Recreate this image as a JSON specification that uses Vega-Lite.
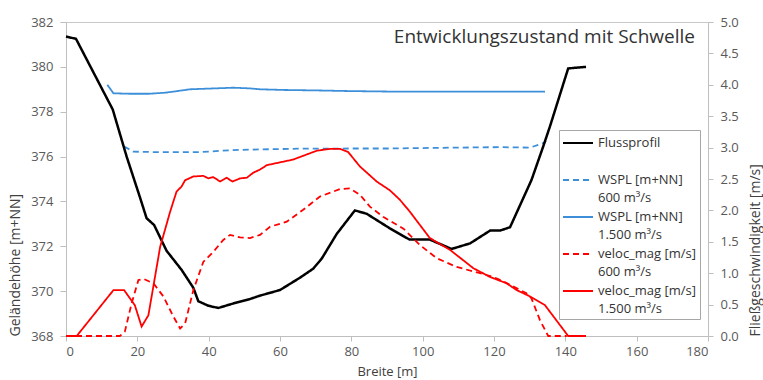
{
  "$schema": "https://vega.github.io/schema/vega-lite/v6.json",
  "width": 642,
  "height": 314,
  "autosize": "none",
  "padding": {"left": 66, "top": 22, "right": 55, "bottom": 44},
  "background": "white",
  "title": {
    "text": "Entwicklungszustand mit Schwelle",
    "anchor": "end",
    "orient": "top",
    "frame": "group",
    "offset": -31,
    "dx": -13,
    "fontSize": 19,
    "font": "Open Sans",
    "fontWeight": "normal",
    "color": "#333333"
  },
  "config": {
    "font": "Open Sans",
    "view": {"stroke": "#c8c8c8", "strokeWidth": 1},
    "axis": {
      "grid": false,
      "domainColor": "#bfbfbf",
      "tickColor": "#bfbfbf",
      "tickSize": 5,
      "labelColor": "#595959",
      "labelFontSize": 13,
      "labelFont": "Open Sans",
      "titleFont": "Open Sans",
      "titleFontSize": 14,
      "titleFontWeight": "normal",
      "titleColor": "#404040"
    },
    "legend": {
      "orient": "none",
      "legendX": 493,
      "legendY": 108,
      "strokeColor": "#a6a6a6",
      "fillColor": "white",
      "padding": 3,
      "symbolType": "stroke",
      "symbolSize": 900,
      "symbolStrokeWidth": 2,
      "clipHeight": 20,
      "labelFontSize": 13,
      "labelFont": "Open Sans",
      "labelColor": "#333333",
      "labelLimit": 300,
      "labelOffset": 4,
      "rowPadding": 2
    }
  },
  "data": {
    "values": [
      {"s": "F", "x": 0, "y": 381.35},
      {"s": "F", "x": 2.8, "y": 381.25},
      {"s": "F", "x": 13.1, "y": 378.1},
      {"s": "F", "x": 17, "y": 376.0},
      {"s": "F", "x": 20.7, "y": 374.2},
      {"s": "F", "x": 22.6, "y": 373.25},
      {"s": "F", "x": 24.7, "y": 372.95},
      {"s": "F", "x": 28.2, "y": 371.8},
      {"s": "F", "x": 32.4, "y": 370.95},
      {"s": "F", "x": 35.7, "y": 370.15},
      {"s": "F", "x": 37.1, "y": 369.55},
      {"s": "F", "x": 39.9, "y": 369.35},
      {"s": "F", "x": 42.7, "y": 369.25},
      {"s": "F", "x": 46.9, "y": 369.45},
      {"s": "F", "x": 51.6, "y": 369.65},
      {"s": "F", "x": 54.4, "y": 369.8},
      {"s": "F", "x": 60, "y": 370.05},
      {"s": "F", "x": 65.6, "y": 370.6},
      {"s": "F", "x": 69.3, "y": 371.0},
      {"s": "F", "x": 71.7, "y": 371.45},
      {"s": "F", "x": 75.9, "y": 372.55},
      {"s": "F", "x": 81.0, "y": 373.6},
      {"s": "F", "x": 84.3, "y": 373.45},
      {"s": "F", "x": 90.8, "y": 372.8},
      {"s": "F", "x": 96.3, "y": 372.3},
      {"s": "F", "x": 102.0, "y": 372.3},
      {"s": "F", "x": 108.1, "y": 371.88},
      {"s": "F", "x": 113.3, "y": 372.13},
      {"s": "F", "x": 118.9, "y": 372.7},
      {"s": "F", "x": 121.7, "y": 372.7},
      {"s": "F", "x": 124.5, "y": 372.85},
      {"s": "F", "x": 130.5, "y": 374.95},
      {"s": "F", "x": 133.8, "y": 376.45},
      {"s": "F", "x": 135.7, "y": 377.35},
      {"s": "F", "x": 140.8, "y": 379.93},
      {"s": "F", "x": 145.8, "y": 380.0},

      {"s": "W1500", "x": 11.6, "y": 379.2},
      {"s": "W1500", "x": 13.3, "y": 378.82},
      {"s": "W1500", "x": 18, "y": 378.8},
      {"s": "W1500", "x": 23.1, "y": 378.8},
      {"s": "W1500", "x": 28, "y": 378.85},
      {"s": "W1500", "x": 34.8, "y": 379.0},
      {"s": "W1500", "x": 40, "y": 379.03},
      {"s": "W1500", "x": 46.9, "y": 379.07},
      {"s": "W1500", "x": 51.6, "y": 379.04},
      {"s": "W1500", "x": 54.4, "y": 379.0},
      {"s": "W1500", "x": 60.9, "y": 378.97},
      {"s": "W1500", "x": 70, "y": 378.95},
      {"s": "W1500", "x": 79.6, "y": 378.92},
      {"s": "W1500", "x": 90, "y": 378.9},
      {"s": "W1500", "x": 100, "y": 378.9},
      {"s": "W1500", "x": 110, "y": 378.9},
      {"s": "W1500", "x": 120, "y": 378.9},
      {"s": "W1500", "x": 134.3, "y": 378.9},

      {"s": "W600", "x": 16.3, "y": 376.45},
      {"s": "W600", "x": 18.9, "y": 376.22},
      {"s": "W600", "x": 25, "y": 376.2},
      {"s": "W600", "x": 30, "y": 376.2},
      {"s": "W600", "x": 37.6, "y": 376.2},
      {"s": "W600", "x": 46.9, "y": 376.29},
      {"s": "W600", "x": 54.4, "y": 376.32},
      {"s": "W600", "x": 65, "y": 376.35},
      {"s": "W600", "x": 80, "y": 376.36},
      {"s": "W600", "x": 90, "y": 376.36},
      {"s": "W600", "x": 100, "y": 376.38},
      {"s": "W600", "x": 110, "y": 376.4},
      {"s": "W600", "x": 121.7, "y": 376.42},
      {"s": "W600", "x": 130.1, "y": 376.4},
      {"s": "W600", "x": 133.8, "y": 376.6},
      {"s": "W600", "x": 134.6, "y": 376.7},

      {"s": "V1500", "x": 0, "y": 0},
      {"s": "V1500", "x": 3, "y": 0},
      {"s": "V1500", "x": 13.3, "y": 0.73},
      {"s": "V1500", "x": 16.3, "y": 0.73},
      {"s": "V1500", "x": 19.3, "y": 0.49},
      {"s": "V1500", "x": 21.2, "y": 0.15},
      {"s": "V1500", "x": 23.1, "y": 0.33},
      {"s": "V1500", "x": 26.4, "y": 1.42},
      {"s": "V1500", "x": 29.2, "y": 1.98},
      {"s": "V1500", "x": 31.0, "y": 2.3},
      {"s": "V1500", "x": 32.4, "y": 2.38},
      {"s": "V1500", "x": 33.4, "y": 2.48},
      {"s": "V1500", "x": 35.7, "y": 2.54},
      {"s": "V1500", "x": 38.5, "y": 2.55},
      {"s": "V1500", "x": 39.9, "y": 2.51},
      {"s": "V1500", "x": 41.3, "y": 2.53},
      {"s": "V1500", "x": 43.2, "y": 2.46},
      {"s": "V1500", "x": 45.0, "y": 2.52},
      {"s": "V1500", "x": 46.7, "y": 2.46},
      {"s": "V1500", "x": 48.8, "y": 2.51},
      {"s": "V1500", "x": 50.7, "y": 2.52},
      {"s": "V1500", "x": 52.5, "y": 2.6},
      {"s": "V1500", "x": 54.4, "y": 2.65},
      {"s": "V1500", "x": 56.3, "y": 2.72},
      {"s": "V1500", "x": 63.7, "y": 2.81},
      {"s": "V1500", "x": 70.3, "y": 2.95},
      {"s": "V1500", "x": 74, "y": 2.98},
      {"s": "V1500", "x": 76.8, "y": 2.98},
      {"s": "V1500", "x": 79.1, "y": 2.93},
      {"s": "V1500", "x": 82.4, "y": 2.7},
      {"s": "V1500", "x": 87.1, "y": 2.46},
      {"s": "V1500", "x": 90.8, "y": 2.32},
      {"s": "V1500", "x": 93.6, "y": 2.17},
      {"s": "V1500", "x": 96.4, "y": 1.98},
      {"s": "V1500", "x": 102.0, "y": 1.56},
      {"s": "V1500", "x": 107.7, "y": 1.37},
      {"s": "V1500", "x": 114.2, "y": 1.08},
      {"s": "V1500", "x": 118.9, "y": 0.94},
      {"s": "V1500", "x": 123.5, "y": 0.84},
      {"s": "V1500", "x": 126.4, "y": 0.73},
      {"s": "V1500", "x": 130.1, "y": 0.63},
      {"s": "V1500", "x": 134.3, "y": 0.49},
      {"s": "V1500", "x": 140.8, "y": 0},
      {"s": "V1500", "x": 145.8, "y": 0},

      {"s": "V600", "x": 0, "y": 0},
      {"s": "V600", "x": 15.1, "y": 0},
      {"s": "V600", "x": 16.5, "y": 0.07},
      {"s": "V600", "x": 18.4, "y": 0.52},
      {"s": "V600", "x": 20.3, "y": 0.89},
      {"s": "V600", "x": 21.7, "y": 0.91},
      {"s": "V600", "x": 24.5, "y": 0.84},
      {"s": "V600", "x": 27.3, "y": 0.63},
      {"s": "V600", "x": 30.1, "y": 0.31},
      {"s": "V600", "x": 32.0, "y": 0.12},
      {"s": "V600", "x": 33.4, "y": 0.2},
      {"s": "V600", "x": 35.7, "y": 0.73},
      {"s": "V600", "x": 38.5, "y": 1.18},
      {"s": "V600", "x": 41.3, "y": 1.34},
      {"s": "V600", "x": 44.1, "y": 1.53},
      {"s": "V600", "x": 46.0, "y": 1.61},
      {"s": "V600", "x": 48.8, "y": 1.57},
      {"s": "V600", "x": 51.6, "y": 1.56},
      {"s": "V600", "x": 54.4, "y": 1.61},
      {"s": "V600", "x": 57.2, "y": 1.74},
      {"s": "V600", "x": 61.9, "y": 1.82},
      {"s": "V600", "x": 66.5, "y": 2.01},
      {"s": "V600", "x": 71.2, "y": 2.22},
      {"s": "V600", "x": 76.8, "y": 2.34},
      {"s": "V600", "x": 79.6, "y": 2.35},
      {"s": "V600", "x": 82.4, "y": 2.25},
      {"s": "V600", "x": 85.2, "y": 2.06},
      {"s": "V600", "x": 88.9, "y": 1.9},
      {"s": "V600", "x": 94.6, "y": 1.71},
      {"s": "V600", "x": 99.2, "y": 1.45},
      {"s": "V600", "x": 103.9, "y": 1.24},
      {"s": "V600", "x": 109.5, "y": 1.1},
      {"s": "V600", "x": 116.1, "y": 1.0},
      {"s": "V600", "x": 119.8, "y": 0.94},
      {"s": "V600", "x": 122.6, "y": 0.87},
      {"s": "V600", "x": 129.1, "y": 0.68},
      {"s": "V600", "x": 130.5, "y": 0.6},
      {"s": "V600", "x": 132.9, "y": 0.25},
      {"s": "V600", "x": 135.2, "y": 0},
      {"s": "V600", "x": 140.4, "y": 0}
    ]
  },
  "encoding": {
    "x": {
      "field": "x",
      "type": "quantitative",
      "scale": {"domain": [0, 180], "nice": false, "zero": false},
      "axis": {"values": [0, 20, 40, 60, 80, 100, 120, 140, 160, 180], "title": "Breite [m]", "titleFontSize": 13, "labelPadding": 4, "titlePadding": 7}
    },
    "color": {
      "field": "s",
      "type": "nominal",
      "scale": {"domain": ["F", "W600", "W1500", "V600", "V1500"], "range": ["#000000", "#3d8fd9", "#3d8fd9", "#ff0000", "#ff0000"]},
      "legend": {
        "title": null,
        "labelExpr": "datum.label == 'F' ? ['Flussprofil', ' '] : datum.label == 'W600' ? ['WSPL [m+NN]', '600 m³/s'] : datum.label == 'W1500' ? ['WSPL [m+NN]', '1.500 m³/s'] : datum.label == 'V600' ? ['veloc_mag [m/s]', '600 m³/s'] : ['veloc_mag [m/s]', '1.500 m³/s']",
        "encode": {"labels": {"update": {"lineHeight": {"value": 18}}}}
      }
    },
    "strokeDash": {
      "field": "s",
      "type": "nominal",
      "scale": {"domain": ["F", "W600", "W1500", "V600", "V1500"], "range": [[1, 0], [6, 4], [1, 0], [6, 4], [1, 0]]},
      "legend": {
        "title": null,
        "labelExpr": "datum.label == 'F' ? ['Flussprofil', ' '] : datum.label == 'W600' ? ['WSPL [m+NN]', '600 m³/s'] : datum.label == 'W1500' ? ['WSPL [m+NN]', '1.500 m³/s'] : datum.label == 'V600' ? ['veloc_mag [m/s]', '600 m³/s'] : ['veloc_mag [m/s]', '1.500 m³/s']",
        "encode": {"labels": {"update": {"lineHeight": {"value": 18}}}}
      }
    }
  },
  "layer": [
    {
      "layer": [
        {
          "transform": [{"filter": "datum.s == 'W600' || datum.s == 'W1500'"}],
          "mark": {"type": "line", "strokeWidth": 1.8},
          "encoding": {
            "y": {
              "field": "y",
              "type": "quantitative",
              "scale": {"domain": [368, 382], "nice": false, "zero": false},
              "axis": {"values": [368, 370, 372, 374, 376, 378, 380, 382], "title": "Geländehöhe [m+NN]", "titleAnchor": "start", "titlePadding": 8, "labelPadding": 7, "tickSize": 6}
            }
          }
        },
        {
          "transform": [{"filter": "datum.s == 'F'"}],
          "mark": {"type": "line", "strokeWidth": 2.5},
          "encoding": {
            "y": {
              "field": "y",
              "type": "quantitative",
              "scale": {"domain": [368, 382], "nice": false, "zero": false}
            }
          }
        }
      ]
    },
    {
      "transform": [{"filter": "datum.s == 'V600' || datum.s == 'V1500'"}],
      "mark": {"type": "line", "strokeWidth": 1.8},
      "encoding": {
        "y": {
          "field": "y",
          "type": "quantitative",
          "scale": {"domain": [0, 5], "nice": false, "zero": false},
          "axis": {"orient": "right", "values": [0, 0.5, 1, 1.5, 2, 2.5, 3, 3.5, 4, 4.5, 5], "format": ".1f", "title": "Fließgeschwindigkeit [m/s]", "titleAnchor": "start", "titleAngle": 270, "titleBaseline": "top", "titlePadding": 10, "labelPadding": 7}
        }
      }
    }
  ],
  "resolve": {"scale": {"y": "independent"}}
}
